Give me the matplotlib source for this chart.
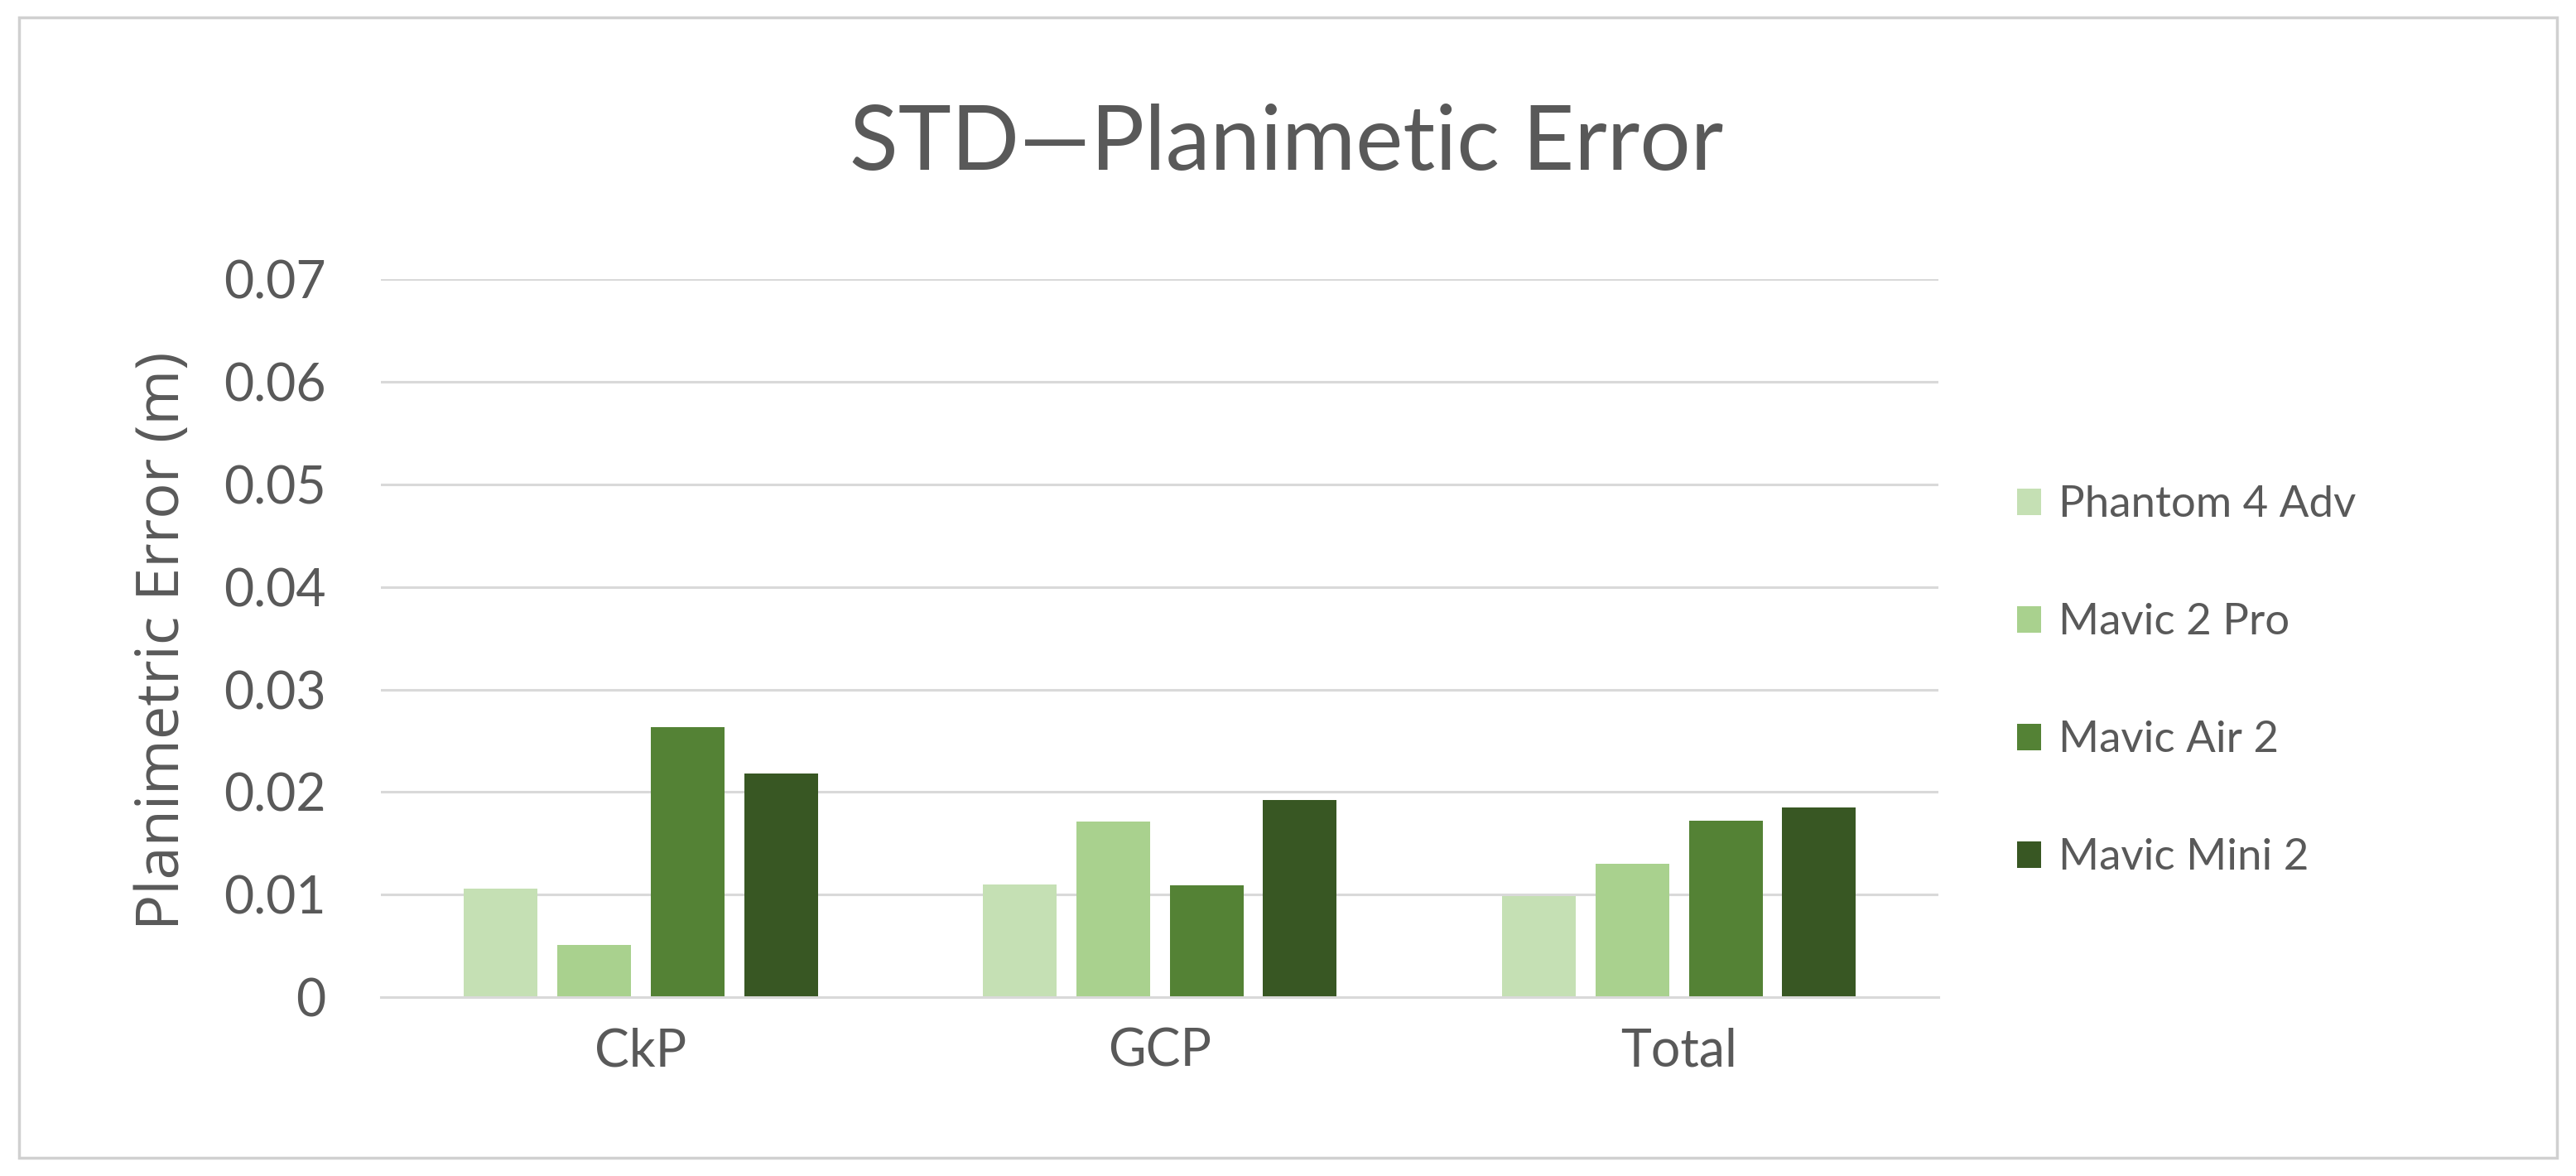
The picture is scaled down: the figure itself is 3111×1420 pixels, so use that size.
import numpy as np
import matplotlib.pyplot as plt
from matplotlib.patches import Rectangle

# data
categories = ['CkP', 'GCP', 'Total']
drones = ['Phantom 4 Adv', 'Mavic 2 Pro', 'Mavic Air 2', 'Mavic Mini 2']
phantom_4_adv = [0.0106, 0.0110, 0.0099]
mavic_2_pro = [0.0051, 0.0171, 0.0130]
mavic_air_2 = [0.0263, 0.0109, 0.0172]
mavic_mini_2 = [0.0218, 0.0192, 0.0185]
y_ticks = [0, 0.01, 0.02, 0.03, 0.04, 0.05, 0.06, 0.07]

colors = ['#C5E0B4', '#A9D18E', '#548235', '#385723']
text_color = '#595959'
grid_color = '#D9D9D9'

plt.rcParams['font.family'] = ['Lato', 'DejaVu Sans']

fig = plt.figure(figsize=(31.11, 14.2), dpi=100)
ax = fig.add_axes([0.148, 0.152, 0.6045, 0.6107])

series = [phantom_4_adv, mavic_2_pro, mavic_air_2, mavic_mini_2]
x = np.arange(len(categories))
width = 0.142
step = 0.180
for i, (name, vals) in enumerate(zip(drones, series)):
    offset = (i - 1.5) * step
    ax.bar(x + offset, vals, width, color=colors[i], label=name, zorder=3)

ax.set_xlim(-0.5, 2.5)
ax.set_ylim(0, 0.07)
ax.set_yticks(y_ticks)
ax.set_yticklabels(['0' if v == 0 else f'{v:.2f}' for v in y_ticks])
ax.set_xticks(x)
ax.set_xticklabels(categories)

ax.grid(axis='y', color=grid_color, linewidth=2.2, zorder=0)
ax.set_axisbelow(True)
for side in ['top', 'right', 'left']:
    ax.spines[side].set_visible(False)
ax.spines['bottom'].set_color(grid_color)
ax.spines['bottom'].set_linewidth(2.2)
ax.spines['bottom'].set_zorder(4)

ax.tick_params(axis='both', length=0, labelsize=45, colors=text_color)
ax.tick_params(axis='y', pad=48)
ax.tick_params(axis='x', pad=26)

# axis title (wider font so its length matches the reference)
fig.text(0.0635, 0.455, 'Planimetric Error (m)', fontsize=52, color=text_color,
         rotation=90, ha='center', va='center', family=['Open Sans', 'DejaVu Sans'])

fig.text(0.4993, 0.877, 'STD\u2014Planimetic Error', fontsize=78, color=text_color,
         ha='center', va='center')

leg = ax.legend(loc='center left', bbox_to_anchor=(0.783, 0.4205), bbox_transform=fig.transFigure,
                frameon=False, fontsize=38, labelspacing=1.8, handlelength=0.55,
                handleheight=0.55, handletextpad=0.4, borderpad=0, borderaxespad=0)
for t in leg.get_texts():
    t.set_color(text_color)

# light chart border
fig.patches.append(Rectangle((0.0075, 0.0155), 0.985, 0.97, transform=fig.transFigure,
                             fill=False, edgecolor='#D0D0D0', linewidth=2.5))

fig.savefig('out.png', dpi=100, facecolor='white')
